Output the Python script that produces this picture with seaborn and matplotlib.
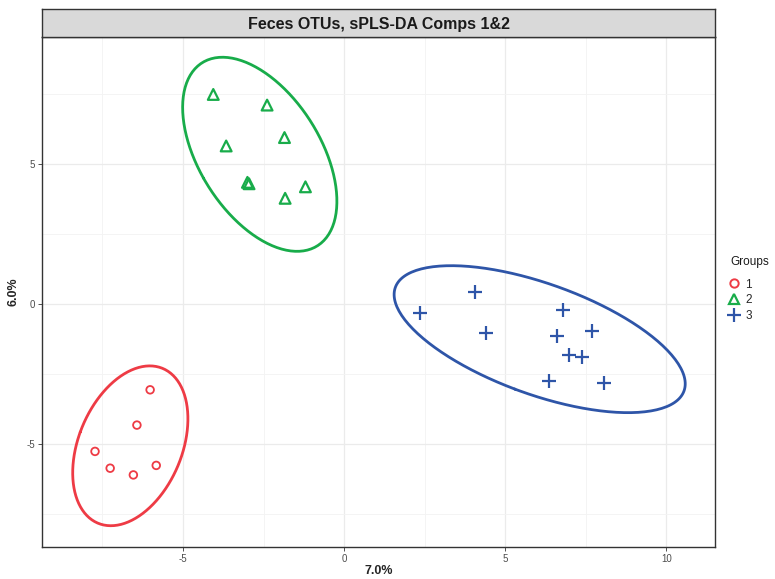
import numpy as np
import pandas as pd
import seaborn as sns
import matplotlib.pyplot as plt

# sPLS-DA scores (comp 1, comp 2)
g1_x = [-6.02, -6.43, -7.73, -7.26, -6.54, -5.83]
g1_y = [-3.06, -4.32, -5.26, -5.86, -6.10, -5.76]
g2_x = [-4.06, -2.39, -1.85, -3.66, -3.00, -2.95, -1.20, -1.83]
g2_y = [7.49, 7.11, 5.95, 5.65, 4.35, 4.30, 4.19, 3.78]
g3_x = [2.36, 4.07, 4.39, 6.80, 6.61, 7.70, 6.97, 7.37, 6.35, 8.07]
g3_y = [-0.30, 0.42, -1.04, -0.21, -1.15, -0.96, -1.80, -1.90, -2.76, -2.81]

groups = ['1', '2', '3']
colors = {'1': '#EE3B45', '2': '#18AC4A', '3': '#2E55A8'}

df = pd.DataFrame({
    'x': g1_x + g2_x + g3_x,
    'y': g1_y + g2_y + g3_y,
    'Groups': ['1'] * len(g1_x) + ['2'] * len(g2_x) + ['3'] * len(g3_x),
})

sns.set_theme(style='whitegrid')
plt.rcParams['font.family'] = ['Liberation Sans', 'DejaVu Sans']
plt.rcParams['axes.unicode_minus'] = False

fig = plt.figure(figsize=(7.75, 5.79), dpi=100)
ax = fig.add_axes([0.054, 0.055, 0.869, 0.881])


def ellipse(x, y, level_r=np.sqrt(-2 * np.log(0.05)), n=200):
    # 95% normal ellipse from sample covariance
    pts = np.column_stack([x, y])
    c = np.cov(pts.T)
    vals, vecs = np.linalg.eigh(c)
    t = np.linspace(0, 2 * np.pi, n)
    circ = np.column_stack([np.cos(t), np.sin(t)]) * np.sqrt(vals) * level_r
    return circ @ vecs.T + pts.mean(axis=0)


for g in groups:
    sub = df[df.Groups == g]
    e = ellipse(sub.x.values, sub.y.values)
    ax.plot(e[:, 0], e[:, 1], color=colors[g], lw=2, zorder=2)

for g in groups:
    sub = df[df.Groups == g]
    if g == '3':
        ax.scatter(sub.x, sub.y, marker='+', s=110, color=colors[g], linewidths=1.6, zorder=3)
    elif g == '2':
        ax.scatter(sub.x, sub.y, marker='^', s=60, facecolors='none', edgecolors=colors[g], linewidths=1.6, zorder=3)
    else:
        ax.scatter(sub.x, sub.y, marker='o', s=30, facecolors='none', edgecolors=colors[g], linewidths=1.3, zorder=3)

ax.set_xlim(-9.38, 11.52)
ax.set_ylim(-8.68, 9.54)
ax.set_xticks([-5, 0, 5, 10])
ax.set_yticks([-5, 0, 5])
ax.set_xticks([-7.5, -2.5, 2.5, 7.5], minor=True)
ax.set_yticks([-7.5, -2.5, 2.5, 7.5], minor=True)
ax.grid(which='major', color='#EBEBEB', lw=0.9)
ax.grid(which='minor', color='#F3F3F3', lw=0.6)
ax.set_axisbelow(True)
ax.tick_params(axis='both', which='major', labelsize=7, labelcolor='#4D4D4D',
               length=3, color='#333333', width=0.6, pad=2, bottom=True, left=True)
ax.tick_params(which='minor', length=0)
for s in ax.spines.values():
    s.set_color('#333333')
    s.set_linewidth(1.0)
ax.set_xlabel('7.0%', fontsize=9, fontweight='bold', va='center')
ax.set_ylabel('6.0%', fontsize=9, fontweight='bold', va='center')
ax.xaxis.set_label_coords(0.5, -0.047)
ax.yaxis.set_label_coords(-0.042, 0.5)

# facet strip
strip = fig.add_axes([0.054, 0.936, 0.869, 0.048])
strip.set_facecolor('#D9D9D9')
strip.set_xticks([])
strip.set_yticks([])
strip.grid(False)
for s in strip.spines.values():
    s.set_color('#333333')
    s.set_linewidth(1.0)
strip.text(0.5, 0.45, 'Feces OTUs, sPLS-DA Comps 1&2', ha='center', va='center',
           fontsize=11.5, fontweight='bold', color='#1A1A1A')

# legend
fig.text(0.943, 0.547, 'Groups', fontsize=8.5, color='#1A1A1A', ha='left', va='center')
handles = [
    plt.Line2D([], [], ls='', marker='o', ms=6, mfc='none', mec=colors['1'], mew=1.4),
    plt.Line2D([], [], ls='', marker='^', ms=7.5, mfc='none', mec=colors['2'], mew=1.6),
    plt.Line2D([], [], ls='', marker='+', ms=10, mec=colors['3'], mew=1.6),
]
fig.legend(handles, groups, loc='upper left', bbox_to_anchor=(0.934, 0.527),
           frameon=False, fontsize=8.5, handlelength=1.0, handletextpad=0.4,
           labelspacing=0.3, borderaxespad=0)

fig.savefig('out.png', dpi=100)
